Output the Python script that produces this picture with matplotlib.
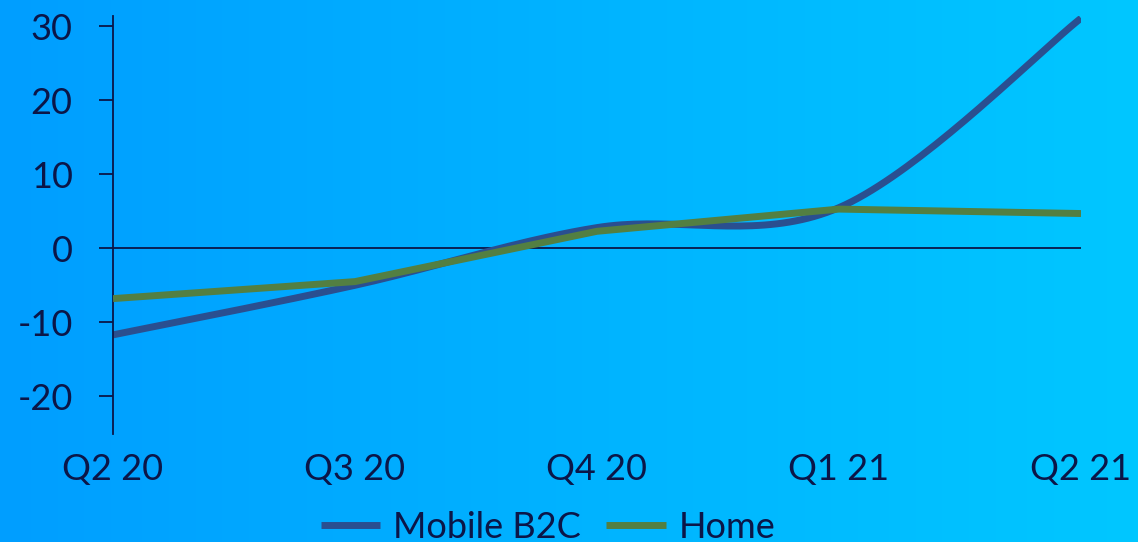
import numpy as np
import matplotlib.pyplot as plt
from matplotlib.colors import LinearSegmentedColormap

# Quarterly change, %
quarters = ['Q2 20', 'Q3 20', 'Q4 20', 'Q1 21', 'Q2 21']
mobile_b2c = [-11.7, -5.0, 2.8, 5.5, 31.1]
home = [-6.8, -4.5, 2.3, 5.3, 4.7]

TEXT = '#0B1648'
MOBILE_COLOR = '#2A4F90'
HOME_COLOR = '#537F42'


def smooth(xs, ys, n=40):
    # Catmull-Rom style bezier smoothing between the points
    xs = np.asarray(xs, float)
    ys = np.asarray(ys, float)
    px = np.concatenate([[xs[0]], xs, [xs[-1]]])
    py = np.concatenate([[ys[0]], ys, [ys[-1]]])
    t = np.linspace(0, 1, n)[:, None]
    out = []
    for i in range(1, len(px) - 2):
        p0 = np.array([px[i], py[i]])
        p3 = np.array([px[i + 1], py[i + 1]])
        c1 = p0 + (np.array([px[i + 1], py[i + 1]]) - np.array([px[i - 1], py[i - 1]])) / 6
        c2 = p3 - (np.array([px[i + 2], py[i + 2]]) - np.array([px[i], py[i]])) / 6
        seg = ((1 - t) ** 3) * p0 + 3 * ((1 - t) ** 2) * t * c1 + 3 * (1 - t) * t ** 2 * c2 + t ** 3 * p3
        out.append(seg if i == 1 else seg[1:])
    out = np.vstack(out)
    return out[:, 0], out[:, 1]


plt.rcParams['font.family'] = ['Lato', 'DejaVu Sans']
plt.rcParams['axes.unicode_minus'] = False

fig = plt.figure(figsize=(11.38, 5.42), dpi=100)

# background gradient, blue to cyan
bg = fig.add_axes([0, 0, 1, 1], zorder=-10)
cmap = LinearSegmentedColormap.from_list('bg', ['#009EFF', '#00C7FF'])
bg.imshow(np.linspace(0, 1, 256)[None, :], aspect='auto', cmap=cmap, extent=[0, 1, 0, 1])
bg.axis('off')

ax = fig.add_axes([113 / 1138, 1 - 434 / 542, (1081 - 113) / 1138, (434 - 16) / 542])
ax.patch.set_alpha(0)

x = np.arange(len(quarters))
sx, sy = smooth(x, mobile_b2c)
ax.axhline(0, color=TEXT, lw=1.3, zorder=1)
ax.plot(sx, sy, color=MOBILE_COLOR, lw=5, solid_capstyle='butt', label='Mobile B2C', zorder=2)
ax.plot(x, home, color=HOME_COLOR, lw=5, solid_capstyle='butt', label='Home', zorder=3)

ax.set_xlim(0, 4)
ax.set_ylim(-25.1, 31.4)
ax.set_yticks([-20, -10, 0, 10, 20, 30])
ax.set_xticks(x)
ax.set_xticklabels(quarters)

for side in ['top', 'right', 'bottom']:
    ax.spines[side].set_visible(False)
ax.spines['left'].set_color(TEXT)
ax.spines['left'].set_linewidth(1.3)
ax.tick_params(axis='y', length=10, width=1.3, color=TEXT, labelcolor=TEXT, labelsize=26, pad=19)
ax.tick_params(axis='x', length=0, labelcolor=TEXT, labelsize=26, pad=14)

fig.legend(loc='center', bbox_to_anchor=(548 / 1138, 1 - 527 / 542), ncol=2, frameon=False,
           fontsize=26, labelcolor=TEXT, handlelength=1.65, handletextpad=0.35, columnspacing=0.7,
           borderaxespad=0)

fig.savefig('out.png', dpi=100)
